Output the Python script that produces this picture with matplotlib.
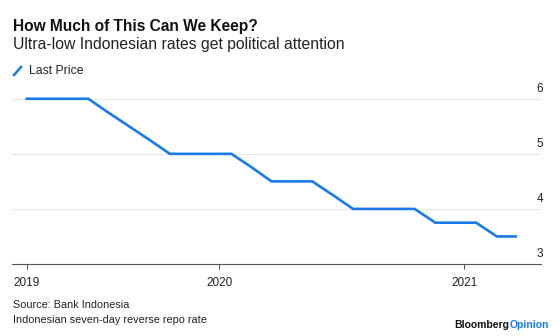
import numpy as np
import pandas as pd
import matplotlib
matplotlib.use("Agg")
import matplotlib.pyplot as plt
import matplotlib.transforms as mtransforms
from matplotlib.lines import Line2D

plt.rcParams['font.family'] = ['Liberation Sans', 'DejaVu Sans']

# monthly readings, Mar 2019 .. Mar 2021
months = pd.date_range('2019-03-01', '2021-03-01', freq='MS') + pd.Timedelta(days=18)
rates = [6.0, 6.0, 6.0, 6.0, 5.75, 5.5, 5.25, 5.0, 5.0, 5.0,
         5.0, 4.75, 4.5, 4.5, 4.5, 4.25, 4.0, 4.0, 4.0, 4.0, 3.75, 3.75,
         3.75, 3.5, 3.5]
year_ticks = [months[0], pd.Timestamp('2020-01-01'), pd.Timestamp('2021-01-01')]
year_labels = ['2019', '2020', '2021']
y_levels = [3, 4, 5, 6]

BLUE = '#1a7ae8'
GREY = '#e8e8e8'

fig = plt.figure(figsize=(5.6, 3.36), dpi=100)
ax = fig.add_axes([12/560, 1-264/336, 529/560, 179/336])

ax.plot(months, rates, color=BLUE, lw=1.9, solid_joinstyle='miter', zorder=3)

ax.set_xlim(pd.Timestamp('2019-02-25'), pd.Timestamp('2021-04-26'))
ax.set_ylim(3, 6.25)

for v in y_levels[1:]:
    ax.axhline(v, color=GREY, lw=0.8, zorder=1)

for s in ['top', 'left', 'right']:
    ax.spines[s].set_visible(False)
ax.spines['bottom'].set_color('#555555')
ax.spines['bottom'].set_linewidth(0.8)

ax.set_yticks([])
ax.set_xticks(year_ticks)
ax.set_xticklabels(year_labels, fontsize=8.5, color='#222222')
ax.tick_params(axis='x', direction='out', length=3.5, width=0.8,
               color='#555555', pad=6)

# value labels sit on top of each grid line, right aligned
lab_tr = mtransforms.blended_transform_factory(ax.transAxes, ax.transData) + \
    mtransforms.ScaledTranslation(0.02, 0.04, fig.dpi_scale_trans)
for v in y_levels:
    ax.text(1.0, v, str(v), transform=lab_tr, ha='right', va='bottom',
            fontsize=8.5, color='#222222')

fig.text(13/560, 1-26/336, 'How Much of This Can We Keep?', fontsize=11.2,
         fontweight='bold', va='center', ha='left', color='#111111')
fig.text(13/560, 1-45/336, 'Ultra-low Indonesian rates get political attention',
         fontsize=11.3, va='center', ha='left', color='#222222')

fig.add_artist(Line2D([14/560, 21/560], [1-75/336, 1-67/336], color=BLUE,
                      lw=1.8, transform=fig.transFigure))
fig.text(29/560, 1-71/336, 'Last Price', fontsize=8.8, va='center',
         ha='left', color='#222222')

fig.text(13/560, 1-305/336, 'Source: Bank Indonesia', fontsize=7.8,
         va='center', ha='left', color='#222222')
fig.text(13/560, 1-320/336, 'Indonesian seven-day reverse repo rate',
         fontsize=7.8, va='center', ha='left', color='#222222')

op = fig.text(549/560, 1-325/336, 'Opinion', fontsize=7.5, fontweight='bold',
              va='center', ha='right', color=BLUE)
fig.add_artist(plt.Annotation('Bloomberg', xy=(0, 0.5), xycoords=op,
                              ha='right', va='center', fontsize=7.5,
                              fontweight='bold', color='#111111'))

fig.savefig('out.png', dpi=100)
